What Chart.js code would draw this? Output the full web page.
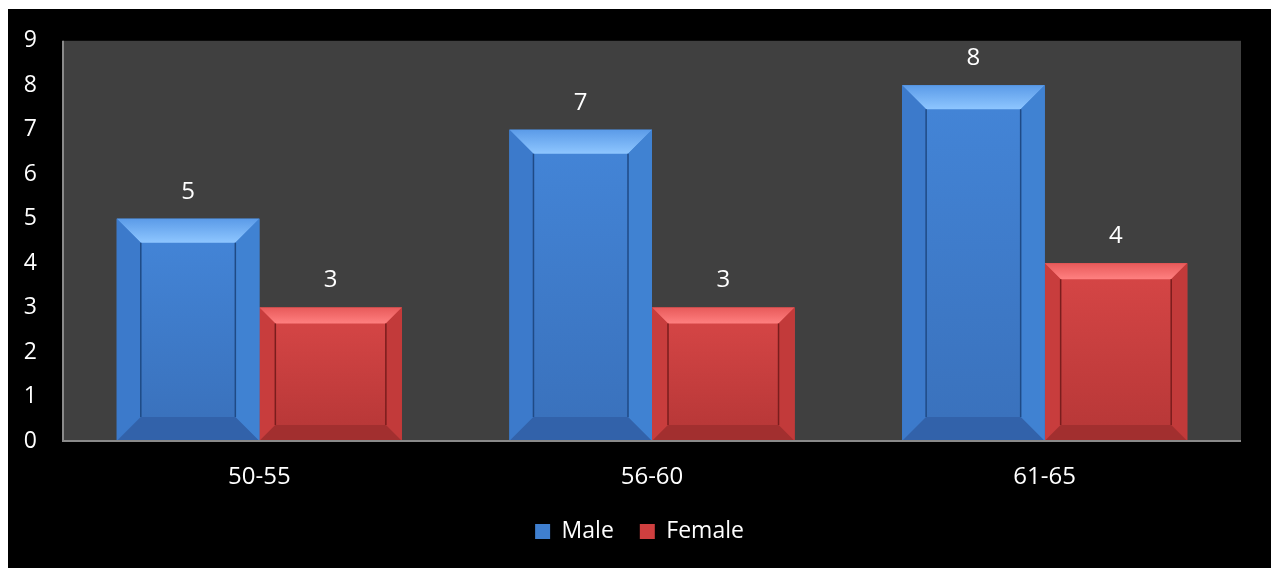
<!DOCTYPE html>
<html>
<head>
    <title>Age groups</title>
    <script src="https://cdn.jsdelivr.net/npm/chart.js"></script>
    <style>
        body { margin: 0; background: #fff; }
        #wrap { position: absolute; left: 8px; top: 9px; width: 1263px; height: 559px; background: #000; }
    </style>
</head>
<body>
    <div id="wrap"><canvas id="ageChart"></canvas></div>

    <script>
        const categories = ['50-55', '56-60', '61-65'];
        const maleValues = [5, 7, 8];
        const femaleValues = [3, 3, 4];
        const yTicks = [0, 1, 2, 3, 4, 5, 6, 7, 8, 9];

        const FONT = '"Open Sans", sans-serif';

        // colours for the bevelled bars: face, top, left, right, bottom, inner edge
        const bevels = [
            { size: 24, face: ['#4384d6', '#3a72bd'], top: ['#5b9be8', '#8ec6ff'], left: '#3c7acb', right: '#4082d2', bottom: '#3262aa', edge: '#1f4a85' },
            { size: 16, face: ['#d44545', '#b93838'], top: ['#e85a5a', '#ff8080'], left: '#c83d3d', right: '#c23a3a', bottom: '#a22f2f', edge: '#7a1d1d' }
        ];

        function quad(ctx, pts, fill) {
            ctx.beginPath();
            ctx.moveTo(pts[0][0], pts[0][1]);
            for (let i = 1; i < pts.length; i++) ctx.lineTo(pts[i][0], pts[i][1]);
            ctx.closePath();
            ctx.fillStyle = fill;
            ctx.fill();
        }

        const plotBackground = {
            id: 'plotBackground',
            beforeDatasetsDraw(chart) {
                const { ctx, chartArea: a } = chart;
                ctx.save();
                ctx.fillStyle = '#404040';
                ctx.fillRect(a.left, a.top, a.right - a.left, a.bottom - a.top);
                ctx.restore();
            },
            afterDatasetsDraw(chart) {
                const { ctx, chartArea: a } = chart;
                ctx.save();
                ctx.strokeStyle = '#8a8a8a';
                ctx.lineWidth = 2;
                ctx.beginPath();
                ctx.moveTo(a.left, a.top);
                ctx.lineTo(a.left, a.bottom);
                ctx.lineTo(a.right, a.bottom);
                ctx.stroke();
                ctx.restore();
            }
        };

        const bevelBars = {
            id: 'bevelBars',
            afterDatasetDraw(chart, args) {
                const ctx = chart.ctx;
                const b = bevels[args.index];
                const meta = args.meta;
                ctx.save();
                meta.data.forEach((bar, i) => {
                    const l = bar.x - bar.width / 2, r = bar.x + bar.width / 2;
                    const t = bar.y, bt = bar.base;
                    const s = b.size;
                    let g = ctx.createLinearGradient(0, t + s, 0, bt - s);
                    g.addColorStop(0, b.face[0]);
                    g.addColorStop(1, b.face[1]);
                    ctx.fillStyle = g;
                    ctx.fillRect(l, t, r - l, bt - t);

                    g = ctx.createLinearGradient(0, t, 0, t + s);
                    g.addColorStop(0, b.top[0]);
                    g.addColorStop(1, b.top[1]);
                    quad(ctx, [[l, t], [r, t], [r - s, t + s], [l + s, t + s]], g);
                    quad(ctx, [[l, t], [l + s, t + s], [l + s, bt - s], [l, bt]], b.left);
                    quad(ctx, [[r, t], [r, bt], [r - s, bt - s], [r - s, t + s]], b.right);
                    quad(ctx, [[l, bt], [l + s, bt - s], [r - s, bt - s], [r, bt]], b.bottom);

                    ctx.strokeStyle = b.edge;
                    ctx.lineWidth = 1.5;
                    ctx.beginPath();
                    ctx.moveTo(l + s, t + s);
                    ctx.lineTo(l + s, bt - s);
                    ctx.moveTo(r - s, t + s);
                    ctx.lineTo(r - s, bt - s);
                    ctx.stroke();

                    // value label above the bar
                    ctx.fillStyle = '#ffffff';
                    ctx.font = '24px ' + FONT;
                    ctx.textAlign = 'center';
                    ctx.textBaseline = 'middle';
                    ctx.fillText(chart.data.datasets[args.index].data[i], bar.x, t - 27);
                });
                ctx.restore();
            }
        };

        new Chart(document.getElementById('ageChart'), {
            type: 'bar',
            data: {
                labels: categories,
                datasets: [
                    { label: 'Male', data: maleValues, backgroundColor: '#3f7fcf', borderColor: '#2d5f9e', borderWidth: 0 },
                    { label: 'Female', data: femaleValues, backgroundColor: '#cf3f3f', borderColor: '#9a2a2a', borderWidth: 0 }
                ]
            },
            options: {
                responsive: true,
                maintainAspectRatio: false,
                animation: false,
                categoryPercentage: 0.726,
                barPercentage: 1.0,
                layout: { padding: { top: 20, right: 0, left: 0, bottom: 15 } },
                plugins: {
                    tooltip: { enabled: false },
                    legend: {
                        position: 'bottom',
                        labels: {
                            color: '#ffffff',
                            font: { family: FONT, size: 23 },
                            boxWidth: 15,
                            boxHeight: 15,
                            padding: 26
                        }
                    }
                },
                scales: {
                    x: {
                        grid: { display: false },
                        border: { display: false },
                        afterFit(scale) { scale.height = 53; },
                        ticks: { color: '#ffffff', font: { family: FONT, size: 24 }, padding: 14 }
                    },
                    y: {
                        min: 0,
                        max: 9,
                        grid: { display: false },
                        border: { display: false },
                        afterFit(scale) { scale.width = 55; },
                        afterBuildTicks(scale) { scale.ticks = yTicks.map(v => ({ value: v })); },
                        ticks: { color: '#ffffff', font: { family: FONT, size: 23 }, padding: 18 }
                    },
                    // empty right axis, only keeps a margin so the legend stays centred on the canvas
                    yRight: {
                        axis: 'y',
                        position: 'right',
                        min: 0,
                        max: 9,
                        grid: { display: false },
                        border: { display: false },
                        ticks: { display: false },
                        afterFit(scale) { scale.width = 30; }
                    }
                }
            },
            plugins: [plotBackground, bevelBars]
        });
    </script>
</body>
</html>
